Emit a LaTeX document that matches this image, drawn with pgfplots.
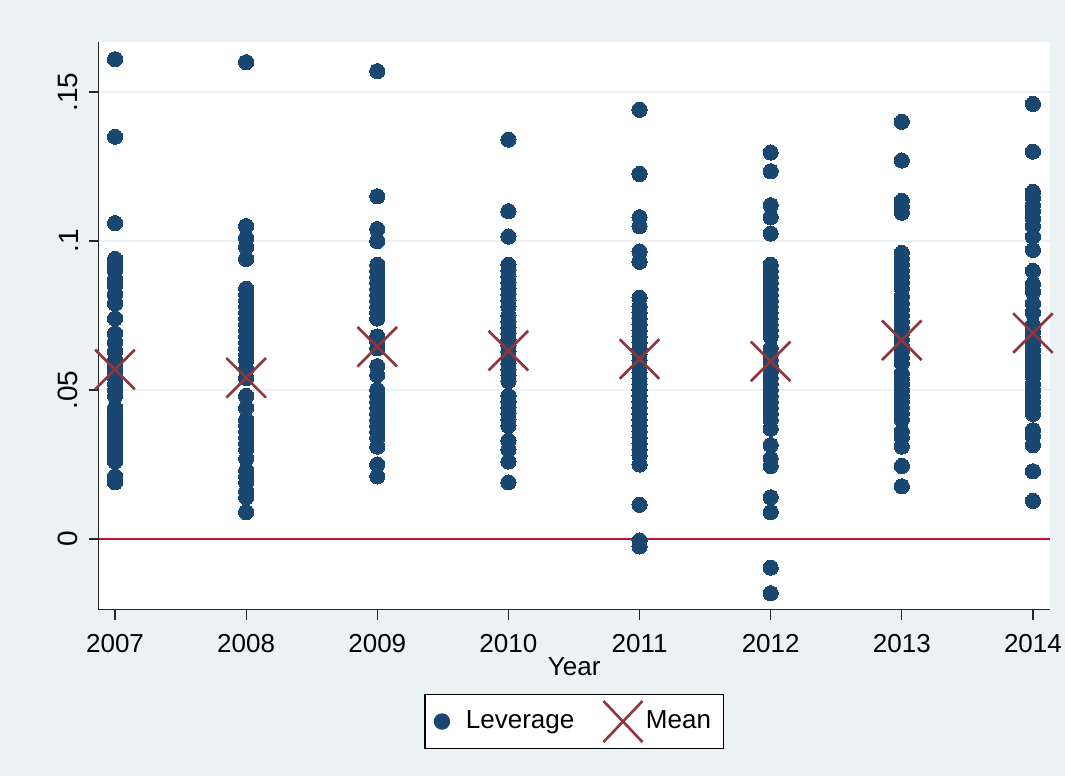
\documentclass[border=0pt]{standalone}
\usepackage{pgfplots}
\pgfplotsset{compat=1.18}
\usepackage{fontspec}
\setmainfont{Liberation Sans}
\definecolor{bg}{HTML}{EAF2F3}
\definecolor{gridc}{HTML}{EAF2F3}
\definecolor{navy}{HTML}{1A476F}
\definecolor{maroon}{HTML}{90353B}
\definecolor{zeroline}{HTML}{C8102E}
\newcommand{\fs}{\fontsize{13}{15.6}\selectfont}
\newcommand{\fy}{\fontsize{14}{16.8}\selectfont}
\begin{document}
\begin{tikzpicture}[x=1pt,y=1pt]
\fill[bg] (-49.25,-83.25) rectangle (483.25,304.75);
\begin{axis}[
  at={(0,0)}, anchor=south west, scale only axis,
  width=475.75pt, height=283.75pt,
  xmin=2006.874, xmax=2014.13, ymin=-0.02366, ymax=0.16678,
  axis x line=bottom, axis y line=left,
  axis line style={-, black!85, line width=0.6pt},
  axis background/.style={fill=white},
  tick align=outside, major tick length=5pt,
  tick style={black!85, line width=0.6pt},
  xtick={2007,2008,2009,2010,2011,2012,2013,2014},
  xticklabels={2007,2008,2009,2010,2011,2012,2013,2014},
  ytick={0,0.05,0.1,0.15}, yticklabels={0,.05,.1,.15},
  ymajorgrids, grid style={color=gridc, line width=1pt},
  xticklabel style={font=\fs, anchor=north, inner sep=0pt, yshift=-7pt},
  yticklabel style={font=\fy, rotate=90, anchor=south, inner sep=0pt, yshift=5pt},
  xlabel={Year},
  xlabel style={font=\fs, at={(axis description cs:0.5,0)}, anchor=north, inner sep=0pt, yshift=-24pt},
  legend style={at={(0.5,-0.1974)}, anchor=center, legend columns=2,
    draw=black, line width=0.6pt, fill=white, inner xsep=3.25pt, inner ysep=2.5pt,
    font=\fs, nodes={inner sep=0pt}, column sep=0pt},
]
\addplot[zeroline, line width=1pt, forget plot] coordinates {(2006.874,0) (2014.13,0)};
\addplot[only marks, mark=*, mark size=3.8pt, mark options={draw=navy, fill=navy, line width=0pt},
  legend image code/.code={\path[draw=none,fill=none] (-5.25pt,0) -- (12pt,0); \fill[navy] (0,0) circle (3.8pt);}]
coordinates {
(2007,0.161) (2007,0.135) (2007,0.106) (2007,0.094) (2007,0.092) (2007,0.090) (2007,0.087) (2007,0.085)
(2007,0.082) (2007,0.079) (2007,0.074) (2007,0.069) (2007,0.066) (2007,0.063) (2007,0.060) (2007,0.058)
(2007,0.056) (2007,0.054) (2007,0.052) (2007,0.050) (2007,0.048) (2007,0.044) (2007,0.042) (2007,0.040)
(2007,0.038) (2007,0.036) (2007,0.034) (2007,0.032) (2007,0.030) (2007,0.028) (2007,0.026) (2007,0.021) (2007,0.019)
(2008,0.160) (2008,0.105) (2008,0.101) (2008,0.098) (2008,0.094) (2008,0.084) (2008,0.082) (2008,0.080)
(2008,0.078) (2008,0.076) (2008,0.074) (2008,0.072) (2008,0.070) (2008,0.068) (2008,0.066) (2008,0.064)
(2008,0.062) (2008,0.060) (2008,0.057) (2008,0.054) (2008,0.048) (2008,0.044) (2008,0.040) (2008,0.038)
(2008,0.036) (2008,0.034) (2008,0.032) (2008,0.030) (2008,0.027) (2008,0.023) (2008,0.021) (2008,0.019)
(2008,0.016) (2008,0.014) (2008,0.009)
(2009,0.157) (2009,0.115) (2009,0.104) (2009,0.100) (2009,0.092) (2009,0.090) (2009,0.088) (2009,0.086)
(2009,0.084) (2009,0.082) (2009,0.080) (2009,0.078) (2009,0.076) (2009,0.074) (2009,0.068) (2009,0.066)
(2009,0.064) (2009,0.058) (2009,0.055) (2009,0.050) (2009,0.048) (2009,0.046) (2009,0.044) (2009,0.042)
(2009,0.040) (2009,0.038) (2009,0.036) (2009,0.034) (2009,0.031) (2009,0.025) (2009,0.021)
(2010,0.134) (2010,0.110) (2010,0.1015) (2010,0.092) (2010,0.090) (2010,0.088) (2010,0.086) (2010,0.084)
(2010,0.082) (2010,0.080) (2010,0.078) (2010,0.075) (2010,0.073) (2010,0.071) (2010,0.069) (2010,0.067)
(2010,0.065) (2010,0.063) (2010,0.061) (2010,0.059) (2010,0.057) (2010,0.055) (2010,0.053) (2010,0.048)
(2010,0.046) (2010,0.044) (2010,0.042) (2010,0.040) (2010,0.038) (2010,0.033) (2010,0.030) (2010,0.026) (2010,0.019)
(2011,0.144) (2011,0.1225) (2011,0.108) (2011,0.105) (2011,0.0965) (2011,0.093) (2011,0.081) (2011,0.078)
(2011,0.076) (2011,0.074) (2011,0.072) (2011,0.070) (2011,0.068) (2011,0.066) (2011,0.064) (2011,0.062)
(2011,0.060) (2011,0.058) (2011,0.056) (2011,0.054) (2011,0.052) (2011,0.050) (2011,0.048) (2011,0.046)
(2011,0.044) (2011,0.042) (2011,0.040) (2011,0.038) (2011,0.036) (2011,0.034) (2011,0.032) (2011,0.030)
(2011,0.028) (2011,0.025) (2011,0.0115) (2011,-0.0005) (2011,-0.0025)
(2012,0.1297) (2012,0.1234) (2012,0.112) (2012,0.108) (2012,0.1025) (2012,0.092) (2012,0.090) (2012,0.088)
(2012,0.086) (2012,0.084) (2012,0.082) (2012,0.080) (2012,0.078) (2012,0.076) (2012,0.074) (2012,0.072)
(2012,0.070) (2012,0.068) (2012,0.064) (2012,0.062) (2012,0.060) (2012,0.058) (2012,0.056) (2012,0.054)
(2012,0.052) (2012,0.050) (2012,0.048) (2012,0.046) (2012,0.044) (2012,0.042) (2012,0.040) (2012,0.037)
(2012,0.0315) (2012,0.027) (2012,0.0245) (2012,0.014) (2012,0.009) (2012,-0.0096) (2012,-0.0182)
(2013,0.140) (2013,0.127) (2013,0.1135) (2013,0.1115) (2013,0.1095) (2013,0.096) (2013,0.094) (2013,0.092)
(2013,0.090) (2013,0.088) (2013,0.086) (2013,0.084) (2013,0.0815) (2013,0.079) (2013,0.077) (2013,0.075)
(2013,0.073) (2013,0.071) (2013,0.069) (2013,0.067) (2013,0.065) (2013,0.063) (2013,0.061) (2013,0.059)
(2013,0.0555) (2013,0.054) (2013,0.052) (2013,0.050) (2013,0.048) (2013,0.046) (2013,0.044) (2013,0.042)
(2013,0.040) (2013,0.036) (2013,0.034) (2013,0.031) (2013,0.0245) (2013,0.0177)
(2014,0.146) (2014,0.130) (2014,0.1165) (2014,0.1145) (2014,0.112) (2014,0.110) (2014,0.1075) (2014,0.105)
(2014,0.1015) (2014,0.097) (2014,0.090) (2014,0.0855) (2014,0.083) (2014,0.079) (2014,0.076) (2014,0.0717)
(2014,0.0695) (2014,0.0675) (2014,0.0655) (2014,0.0635) (2014,0.0615) (2014,0.0595) (2014,0.0575) (2014,0.0555)
(2014,0.0545) (2014,0.052) (2014,0.050) (2014,0.048) (2014,0.046) (2014,0.044) (2014,0.042) (2014,0.0365)
(2014,0.0345) (2014,0.0315) (2014,0.0227) (2014,0.0128)
};
\addlegendentry{Leverage}
\addplot[only marks, mark=x, mark size=14pt, mark options={draw=maroon, line width=1.3pt},
  legend image code/.code={\path[draw=none,fill=none] (-24.3pt,0) -- (11.5pt,0);
    \draw[maroon, line width=1.3pt] (-9.75pt,-10.25pt) -- (9.75pt,10.25pt) (-9.75pt,10.25pt) -- (9.75pt,-10.25pt);}]
coordinates {(2007,0.0569) (2008,0.0541) (2009,0.0645) (2010,0.0632) (2011,0.0604) (2012,0.0596) (2013,0.0667) (2014,0.0691)};
\addlegendentry{Mean\kern3pt}
\end{axis}
\end{tikzpicture}
\end{document}
